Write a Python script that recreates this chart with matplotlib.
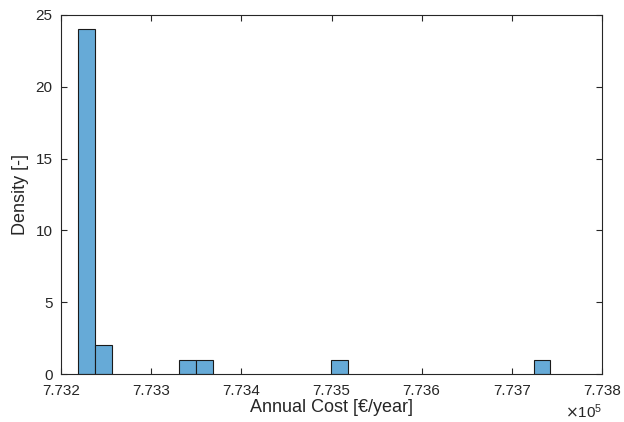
import matplotlib
matplotlib.use('Agg')
import matplotlib.pyplot as plt

# histogram bins (annual cost, EUR/year)
bin_left = [773219.2, 773237.9, 773331.4, 773350.1, 773499.7, 773724.1]
bin_width = 18.7
density = [24, 2, 1, 1, 1, 1]

x_ticks = [773200, 773300, 773400, 773500, 773600, 773700, 773800]
x_tick_labels = ['7.732', '7.733', '7.734', '7.735', '7.736', '7.737', '7.738']
y_ticks = [0, 5, 10, 15, 20, 25]

plt.rcParams['font.family'] = ['Liberation Sans', 'DejaVu Sans']

fig = plt.figure(figsize=(6.24, 4.22), dpi=100)
ax = fig.add_axes([0.0978, 0.1137, 0.8669, 0.8508])

ax.bar(bin_left, density, width=bin_width, align='edge',
       color='#66aad7', edgecolor='#1a1a1a', linewidth=0.8, zorder=2)

ax.set_xlim(773200, 773800)
ax.set_ylim(0, 25)
ax.set_xticks(x_ticks)
ax.set_xticklabels(x_tick_labels)
ax.set_yticks(y_ticks)

dark = '#262626'
for s in ax.spines.values():
    s.set_color(dark)
    s.set_linewidth(0.8)
    s.set_zorder(3)
ax.tick_params(direction='in', top=True, right=True, length=4, width=0.8,
               color=dark, labelcolor=dark, labelsize=11)
ax.tick_params(axis='x', pad=7)
ax.tick_params(axis='y', pad=6)

ax.set_xlabel('Annual Cost [€/year]', fontsize=13, color=dark, labelpad=1)
ax.set_ylabel('Density [-]', fontsize=13, color=dark, labelpad=5)
# exponent shown by MATLAB under the right end of the x axis
ax.text(1.0, -0.078, r'$\times\mathregular{10^5}$', transform=ax.transAxes,
        ha='right', va='top', fontsize=11, color=dark)

fig.savefig('out.png', dpi=100)
